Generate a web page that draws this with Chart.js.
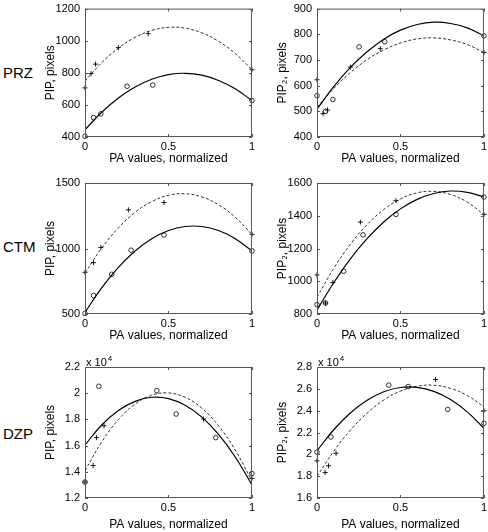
<!DOCTYPE html>
<html>
<head>
<meta charset="utf-8">
<script src="https://cdn.jsdelivr.net/npm/chart.js@4.4.1/dist/chart.umd.min.js"></script>
<style>
  html, body { margin: 0; padding: 0; background: #fff; overflow: hidden; }
  body { width: 488px; height: 532px; position: relative; font-family: "Liberation Sans", Arial, sans-serif; }
  canvas { position: absolute; }
  .row { position: absolute; left: 3px; font-size: 15px; line-height: 18px; color: #000; }
</style>
</head>
<body>
<div class="row" style="top:64px">PRZ</div>
<div class="row" style="top:238px">CTM</div>
<div class="row" style="top:425px">DZP</div>
<canvas id="c1"></canvas>
<canvas id="c2"></canvas>
<canvas id="c3"></canvas>
<canvas id="c4"></canvas>
<canvas id="c5"></canvas>
<canvas id="c6"></canvas>
<script>
// x positions of the fitted curves
const fitX = [0, 0.1, 0.2, 0.3, 0.4, 0.5, 0.6, 0.7, 0.8, 0.9, 1];

// PRZ
const przCircX = [0, 0.051, 0.095, 0.252, 0.406, 1];
const przPlusX = [0, 0.036, 0.063, 0.2, 0.379, 1];
const przPipCirc = [405, 521, 544, 716, 724, 627];
const przPipPlus = [706, 795, 854, 957, 1044, 819];
const przPipSolid = [445, 554, 643, 712, 760, 789, 797, 785, 752, 700, 627];
const przPipDashed = [748, 863, 954, 1021, 1064, 1083, 1078, 1049, 996, 920, 819];
const przPip2Circ = [561, 500, 546, 751, 771, 794];
const przPip2Plus = [623, 491, 505, 672, 744, 729];
const przPip2Solid = [508, 596, 671, 732, 781, 816, 838, 847, 842, 825, 794];
const przPip2Dashed = [516, 589, 651, 701, 739, 766, 782, 786, 778, 760, 729];

// CTM
const ctmCircX = [0, 0.051, 0.16, 0.276, 0.473, 1];
const ctmPlusX = [0, 0.051, 0.095, 0.26, 0.473, 1];
const ctmPipCirc = [505, 641, 803, 987, 1103, 982];
const ctmPipPlus = [818, 892, 1008, 1295, 1351, 1108];
const ctmPipSolid = [513, 700, 856, 981, 1074, 1137, 1168, 1168, 1137, 1075, 982];
const ctmPipDashed = [813, 1003, 1157, 1276, 1358, 1406, 1418, 1394, 1334, 1239, 1108];
const ctmPip2Circ = [857, 867, 1061, 1283, 1408, 1514];
const ctmPip2Plus = [1039, 867, 992, 1361, 1492, 1408];
const ctmPip2Solid = [824, 991, 1137, 1260, 1362, 1442, 1500, 1536, 1551, 1543, 1514];
const ctmPip2Dashed = [902, 1078, 1226, 1346, 1438, 1503, 1540, 1549, 1530, 1483, 1408];

// DZP
const dzpCircX = [0, 0.083, 0.43, 0.546, 0.783, 1];
const dzpPlusX = [0, 0.049, 0.069, 0.114, 0.71, 1];
const dzpPipCirc = [13220, 20530, 20200, 18410, 16610, 13870];
const dzpPipPlus = [13220, 14480, 16610, 17520, 18030, 13500];
const dzpPipSolid = [16050, 17570, 18680, 19380, 19690, 19590, 19080, 18170, 16850, 15130, 13000];
const dzpPipDashed = [14080, 16280, 17980, 19170, 19850, 20020, 19690, 18850, 17510, 15660, 13300];
const dzpPip2Circ = [20200, 21590, 26340, 26210, 24120, 22840];
const dzpPip2Plus = [19400, 18340, 18950, 20100, 26850, 24000];
const dzpPip2Solid = [20320, 22250, 23790, 24950, 25730, 26120, 26140, 25770, 25020, 23890, 22380];
const dzpPip2Dashed = [17980, 20280, 22210, 23770, 24970, 25790, 26240, 26330, 26040, 25390, 24360];

const FONT = "'Liberation Sans', Arial, sans-serif";

function pts(xs, ys) {
    return xs.map((x, i) => ({x: x, y: ys[i]}));
}

// box + inward tick marks, MATLAB style
const frame = {
    id: 'frame',
    afterDatasetsDraw(chart, args, opts) {
        const {ctx, chartArea: a, scales: {x, y}} = chart;
        ctx.save();
        ctx.strokeStyle = '#555';
        ctx.lineWidth = 1;
        ctx.strokeRect(a.left + 0.5, a.top + 0.5, a.right - a.left - 1, a.bottom - a.top - 1);
        ctx.beginPath();
        x.ticks.forEach(t => {
            let px = Math.round(x.getPixelForValue(t.value)) + 0.5;
            ctx.moveTo(px, a.bottom); ctx.lineTo(px, a.bottom - 3);
            ctx.moveTo(px, a.top); ctx.lineTo(px, a.top + 3);
        });
        y.ticks.forEach(t => {
            let py = Math.round(y.getPixelForValue(t.value)) + 0.5;
            ctx.moveTo(a.left, py); ctx.lineTo(a.left + 3, py);
            ctx.moveTo(a.right, py); ctx.lineTo(a.right - 3, py);
        });
        ctx.stroke();
        if (opts.sci) {
            ctx.fillStyle = '#000';
            ctx.textBaseline = 'alphabetic';
            ctx.font = '11px ' + FONT;
            ctx.fillText('x 10', a.left + 1, a.top - 1);
            let w = ctx.measureText('x 10').width;
            ctx.font = '8px ' + FONT;
            ctx.fillText('4', a.left + 2 + w, a.top - 6);
        }
        ctx.restore();
    }
};

function makePanel(id, box, y, circX, circY, plusX, plusY, solid, dashed) {
    const el = document.getElementById(id);
    el.width = box.w;
    el.height = box.h;
    el.style.left = box.x + 'px';
    el.style.top = box.y + 'px';
    new Chart(el.getContext('2d'), {
        type: 'scatter',
        data: {
            datasets: [
                {
                    data: pts(circX, circY), pointStyle: 'circle', pointRadius: 2.3,
                    borderColor: '#000', backgroundColor: 'rgba(0,0,0,0)', borderWidth: 0.8, clip: 6
                },
                {
                    data: pts(plusX, plusY), pointStyle: 'cross', pointRadius: 2.5,
                    borderColor: '#000', borderWidth: 0.9, clip: 6
                },
                {
                    data: pts(fitX, solid), showLine: true, pointRadius: 0, tension: 0.4,
                    borderColor: '#000', borderWidth: 1.2
                },
                {
                    data: pts(fitX, dashed), showLine: true, pointRadius: 0, tension: 0.4,
                    borderColor: '#333', borderWidth: 1, borderDash: [3, 2]
                }
            ]
        },
        options: {
            responsive: false,
            animation: false,
            events: [],
            layout: {padding: {top: box.T, right: box.R, left: 0, bottom: 0}},
            plugins: {legend: {display: false}, tooltip: {enabled: false}, frame: {sci: !!y.sci}},
            scales: {
                x: {
                    type: 'linear', min: 0, max: 1,
                    grid: {display: false, drawTicks: false}, border: {display: false},
                    ticks: {stepSize: 0.5, padding: 3, color: '#000', font: {family: FONT, size: 11},
                            callback: v => String(v), maxRotation: 0},
                    title: {display: true, text: 'PA values, normalized', color: '#000',
                            font: {family: FONT, size: 12}, padding: {top: 0, bottom: 0}},
                    afterFit: s => { s.height = box.B; }
                },
                y: {
                    min: y.min, max: y.max,
                    grid: {display: false, drawTicks: false}, border: {display: false},
                    ticks: {stepSize: y.step, padding: 5, color: '#000', font: {family: FONT, size: 11},
                            callback: v => y.sci ? String(Math.round(v / 1000) / 10) : String(v)},
                    title: {display: true, text: y.title, color: '#000',
                            font: {family: FONT, size: 12}, padding: {top: 3, bottom: 0}},
                    afterFit: s => { s.width = 45; }
                }
            }
        },
        plugins: [frame]
    });
}

const row1 = {y: -3, h: 169, T: 8, B: 29};
const row2 = {y: 169, h: 174, T: 14, B: 29};
const row3 = {y: 353, h: 179, T: 14, B: 34};
const col1 = {x: 40, w: 218, R: 4};
const col2 = {x: 272, w: 218, R: 4};
const box = (r, c) => Object.assign({}, r, c);

makePanel('c1', box(row1, col1), {min: 400, max: 1200, step: 200, title: 'PIP, pixels'},
    przCircX, przPipCirc, przPlusX, przPipPlus, przPipSolid, przPipDashed);
makePanel('c2', box(row1, col2), {min: 400, max: 900, step: 100, title: 'PIP\u2082, pixels'},
    przCircX, przPip2Circ, przPlusX, przPip2Plus, przPip2Solid, przPip2Dashed);
makePanel('c3', box(row2, col1), {min: 500, max: 1500, step: 500, title: 'PIP, pixels'},
    ctmCircX, ctmPipCirc, ctmPlusX, ctmPipPlus, ctmPipSolid, ctmPipDashed);
makePanel('c4', box(row2, col2), {min: 800, max: 1600, step: 200, title: 'PIP\u2082, pixels'},
    ctmCircX, ctmPip2Circ, ctmPlusX, ctmPip2Plus, ctmPip2Solid, ctmPip2Dashed);
makePanel('c5', box(row3, col1), {min: 12000, max: 22000, step: 2000, title: 'PIP, pixels', sci: true},
    dzpCircX, dzpPipCirc, dzpPlusX, dzpPipPlus, dzpPipSolid, dzpPipDashed);
makePanel('c6', box(row3, col2), {min: 16000, max: 28000, step: 2000, title: 'PIP\u2082, pixels', sci: true},
    dzpCircX, dzpPip2Circ, dzpPlusX, dzpPip2Plus, dzpPip2Solid, dzpPip2Dashed);
</script>
</body>
</html>
